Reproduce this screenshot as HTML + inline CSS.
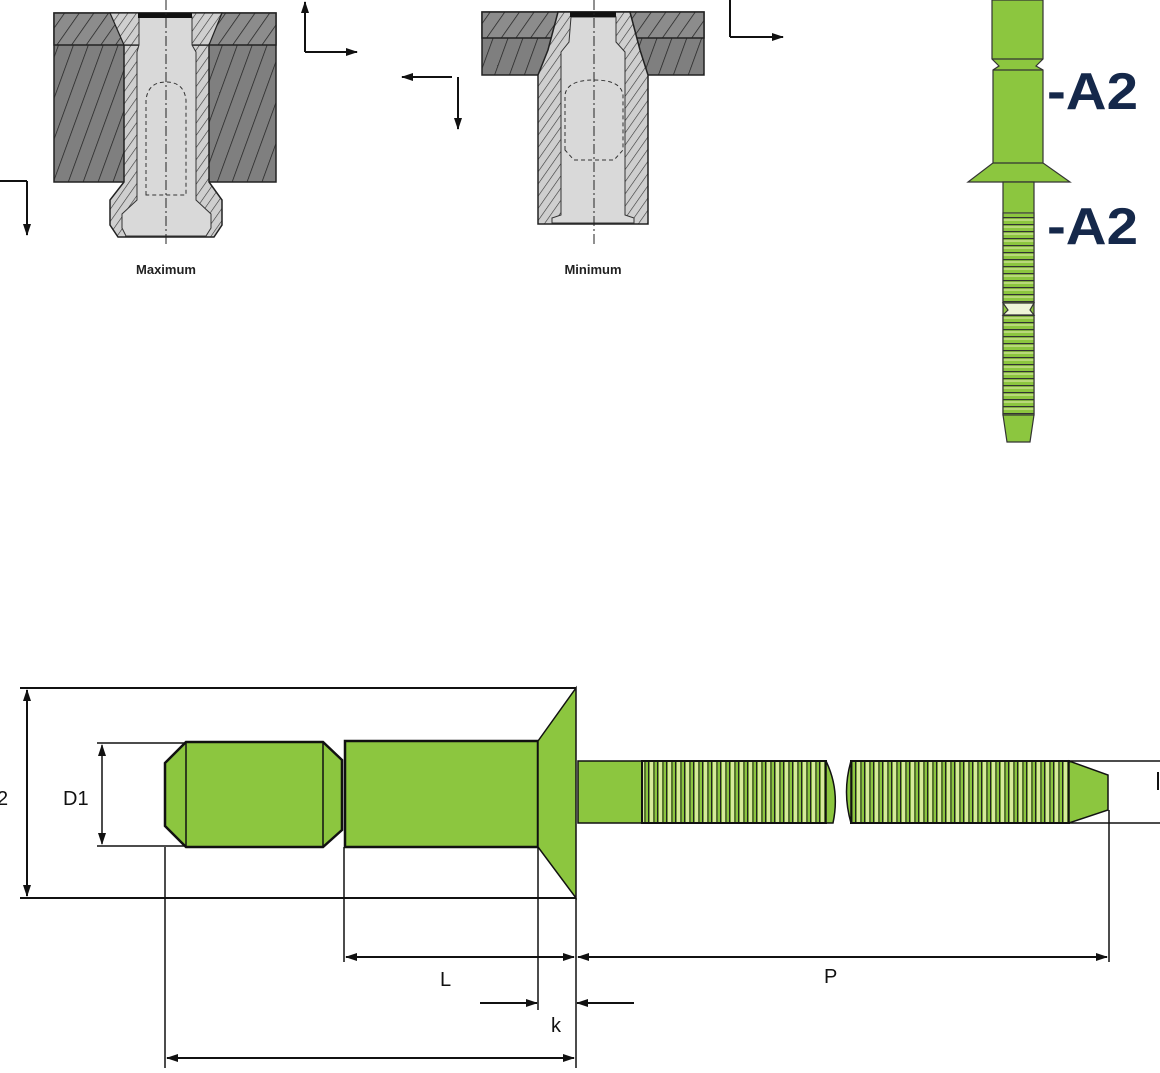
<!DOCTYPE html>
<html><head><meta charset="utf-8"><style>
html,body{margin:0;padding:0;background:#fff;width:1160px;height:1073px;overflow:hidden}
svg{display:block}
text{font-family:"Liberation Sans",sans-serif}
</style></head><body>
<svg width="1160" height="1073" viewBox="0 0 1160 1073" xmlns="http://www.w3.org/2000/svg">
<defs>
<pattern id="hatch" width="14" height="14" patternUnits="userSpaceOnUse" patternTransform="rotate(20)">
<rect width="14" height="14" fill="#7f7f7f"/><line x1="0" y1="0" x2="0" y2="14" stroke="#222" stroke-width="1.5"/></pattern>
<pattern id="hatch2" width="12" height="12" patternUnits="userSpaceOnUse" patternTransform="rotate(35)">
<rect width="12" height="12" fill="#8c8c8c"/><line x1="0" y1="0" x2="0" y2="12" stroke="#222" stroke-width="1.5"/></pattern>
<pattern id="hatch3" width="7" height="7" patternUnits="userSpaceOnUse" patternTransform="rotate(35)">
<rect width="7" height="7" fill="#cfcfcf"/><line x1="0" y1="0" x2="0" y2="7" stroke="#333" stroke-width="1.2"/></pattern>
<pattern id="thr" width="9" height="10" patternUnits="userSpaceOnUse">
<rect width="9" height="10" fill="#8cc63f"/><rect x="2" width="3" height="10" fill="#d6ea9a"/><line x1="0.5" y1="0" x2="0.5" y2="10" stroke="#222" stroke-width="1.5"/><line x1="6" y1="0" x2="6" y2="10" stroke="#222" stroke-width="1"/></pattern>
<pattern id="thrv" width="10" height="7" patternUnits="userSpaceOnUse">
<rect width="10" height="7" fill="#8cc63f"/><rect y="2" width="10" height="2" fill="#b9d97a"/><line x1="0" y1="0.5" x2="10" y2="0.5" stroke="#333" stroke-width="1.3"/></pattern>
<marker id="ah" markerWidth="12" markerHeight="8" refX="11" refY="4" orient="auto-start-reverse" markerUnits="userSpaceOnUse"><path d="M0,0 L12,4 L0,8 Z" fill="#111"/></marker>
</defs>

<rect x="54" y="13" width="222" height="169" fill="url(#hatch)" stroke="#222" stroke-width="1.5"/>
<rect x="54" y="13" width="222" height="32" fill="url(#hatch2)" stroke="#222" stroke-width="1.5"/>
<path d="M124,45 L124,182 L110,200 L110,225 L118,237 L214,237 L222,225 L222,200 L209,182 L209,45 Z" fill="url(#hatch3)" stroke="#222" stroke-width="1.5"/>
<path d="M110,13 L124,45 L209,45 L222,13 Z" fill="url(#hatch3)" stroke="#222" stroke-width="1.2"/>
<path d="M139,17 L192,17 L192,45 L196,52 L196,200 L211,214 L211,228 L206,236 L126,236 L122,228 L122,214 L137,200 L137,52 L139,45 Z" fill="#d9d9d9" stroke="#333" stroke-width="1"/>
<rect x="138" y="13" width="54" height="5" fill="#111"/>
<path d="M146,195 L146,100 Q148,82 166,82 Q184,82 186,100 L186,195 Z" fill="none" stroke="#333" stroke-width="1" stroke-dasharray="4,3"/>
<line x1="166" y1="0" x2="166" y2="245" stroke="#222" stroke-width="1" stroke-dasharray="10,3,2,3"/>
<text x="166" y="274" font-size="13" text-anchor="middle" fill="#222" font-weight="bold">Maximum</text>
<line x1="305" y1="52" x2="305" y2="2" stroke="#111" stroke-width="2" marker-end="url(#ah)"/>
<line x1="305" y1="52" x2="357" y2="52" stroke="#111" stroke-width="2" marker-end="url(#ah)"/>
<line x1="0" y1="181" x2="27" y2="181" stroke="#111" stroke-width="2"/>
<line x1="27" y1="181" x2="27" y2="235" stroke="#111" stroke-width="2" marker-end="url(#ah)"/>

<rect x="482" y="12" width="222" height="63" fill="url(#hatch)" stroke="#222" stroke-width="1.5"/>
<rect x="482" y="12" width="222" height="26" fill="url(#hatch2)" stroke="#222" stroke-width="1.5"/>
<path d="M538,75 L538,224 L648,224 L648,75 L640,50 L630,12 L558,12 L548,50 Z" fill="url(#hatch3)" stroke="#222" stroke-width="1.5"/>
<path d="M571,17 L616,17 L616,42 L625,52 L625,215 L634,218 L634,223 L552,223 L552,218 L561,215 L561,52 L569,42 Z" fill="#d9d9d9" stroke="#333" stroke-width="1"/>
<rect x="570" y="12" width="46" height="5" fill="#111"/>
<path d="M565,150 L565,95 Q567,80 594,80 Q621,80 623,95 L623,150 L614,160 L574,160 Z" fill="none" stroke="#333" stroke-width="1" stroke-dasharray="4,3"/>
<line x1="594" y1="0" x2="594" y2="245" stroke="#222" stroke-width="1" stroke-dasharray="10,3,2,3"/>
<text x="593" y="274" font-size="13" text-anchor="middle" fill="#222" font-weight="bold">Minimum</text>
<line x1="452" y1="77" x2="402" y2="77" stroke="#111" stroke-width="2" marker-end="url(#ah)"/>
<line x1="458" y1="77" x2="458" y2="129" stroke="#111" stroke-width="2" marker-end="url(#ah)"/>
<line x1="730" y1="0" x2="730" y2="37" stroke="#111" stroke-width="2"/>
<line x1="730" y1="37" x2="783" y2="37" stroke="#111" stroke-width="2" marker-end="url(#ah)"/>

<g stroke="#333" stroke-width="1.2">
<path d="M992,0 L1043,0 L1043,59 L1036,66 L1043,70 L1043,163 L1070,182 L968,182 L993,163 L993,70 L999,66 L992,59 Z" fill="#8cc63f"/>
<line x1="993" y1="70" x2="1043" y2="70"/><line x1="992" y1="59" x2="1043" y2="59"/><line x1="993" y1="163" x2="1043" y2="163"/>
<path d="M1003,182 L1034,182 L1034,415 L1030,442 L1007,442 L1003,415 Z" fill="#8cc63f"/>
<rect x="1003" y="213" width="31" height="90" fill="url(#thrv)"/>
<rect x="1003" y="315" width="31" height="100" fill="url(#thrv)"/>
<path d="M1003,303 L1034,303 L1030,310 L1034,315 L1003,315 L1008,310 Z" fill="#eef5d8"/>
</g>
<text x="1047" y="109" font-size="52" font-weight="bold" fill="#15284a" textLength="91" lengthAdjust="spacingAndGlyphs">-A2</text>
<text x="1047" y="244" font-size="52" font-weight="bold" fill="#15284a" textLength="91" lengthAdjust="spacingAndGlyphs">-A2</text>

<g stroke="#111" stroke-width="2" fill="none">
<line x1="20" y1="688" x2="576" y2="688"/>
<line x1="20" y1="898" x2="576" y2="898"/>
<line x1="27" y1="690" x2="27" y2="896" marker-start="url(#ah)" marker-end="url(#ah)"/>
<line x1="97" y1="743" x2="186" y2="743" stroke-width="1.5"/>
<line x1="97" y1="846" x2="186" y2="846" stroke-width="1.5"/>
<line x1="102" y1="745" x2="102" y2="844" stroke-width="1.5" marker-start="url(#ah)" marker-end="url(#ah)"/>
</g>
<text x="-3" y="805" font-size="20" fill="#111">2</text>
<text x="63" y="805" font-size="20" fill="#111">D1</text>

<g stroke="#111" stroke-width="2.5">
<path d="M186,742 L323,742 L342,760 L342,830 L323,847 L186,847 L165,826 L165,763 Z" fill="#8cc63f"/>
<line x1="186" y1="742" x2="186" y2="847" stroke-width="1.5"/>
<line x1="323" y1="742" x2="323" y2="847" stroke-width="1.5"/>
<rect x="345" y="741" width="193" height="106" fill="#8cc63f"/>
<path d="M538,741 L576,688 L576,898 L538,847 Z" fill="#8cc63f" stroke-width="1.5"/>
<rect x="578" y="761" width="64" height="62" fill="#8cc63f" stroke-width="1.5"/>
<rect x="642" y="761" width="184" height="62" fill="url(#thr)" stroke-width="2"/>
<rect x="851" y="761" width="218" height="62" fill="url(#thr)" stroke-width="2"/>
<path d="M826,761 Q840,790 833,823 L826,823 Z" fill="#8cc63f" stroke-width="1.5"/>
<path d="M851,761 Q842,792 851,823 Z" fill="#8cc63f" stroke-width="1.5"/>
<path d="M1069,761 L1108,775 L1108,810 L1069,823 Z" fill="#8cc63f" stroke-width="1.5"/>
</g>

<g stroke="#111" stroke-width="1.5" fill="none">
<line x1="1069" y1="761" x2="1160" y2="761"/>
<line x1="1069" y1="823" x2="1160" y2="823"/>
<line x1="165" y1="847" x2="165" y2="1068"/>
<line x1="344" y1="847" x2="344" y2="962"/>
<line x1="538" y1="847" x2="538" y2="1010"/>
<line x1="576" y1="898" x2="576" y2="1068"/>
<line x1="1109" y1="810" x2="1109" y2="962"/>
</g>
<g stroke="#111" stroke-width="2" fill="none">
<line x1="346" y1="957" x2="574" y2="957" marker-start="url(#ah)" marker-end="url(#ah)"/>
<line x1="578" y1="957" x2="1107" y2="957" marker-start="url(#ah)" marker-end="url(#ah)"/>
<line x1="480" y1="1003" x2="537" y2="1003" marker-end="url(#ah)"/>
<line x1="634" y1="1003" x2="577" y2="1003" marker-end="url(#ah)"/>
<line x1="167" y1="1058" x2="574" y2="1058" marker-start="url(#ah)" marker-end="url(#ah)"/>
<line x1="1158" y1="772" x2="1158" y2="790"/>
</g>
<text x="440" y="986" font-size="20" fill="#111">L</text>
<text x="824" y="983" font-size="20" fill="#111">P</text>
<text x="551" y="1032" font-size="20" fill="#111">k</text>
</svg>
</body></html>
